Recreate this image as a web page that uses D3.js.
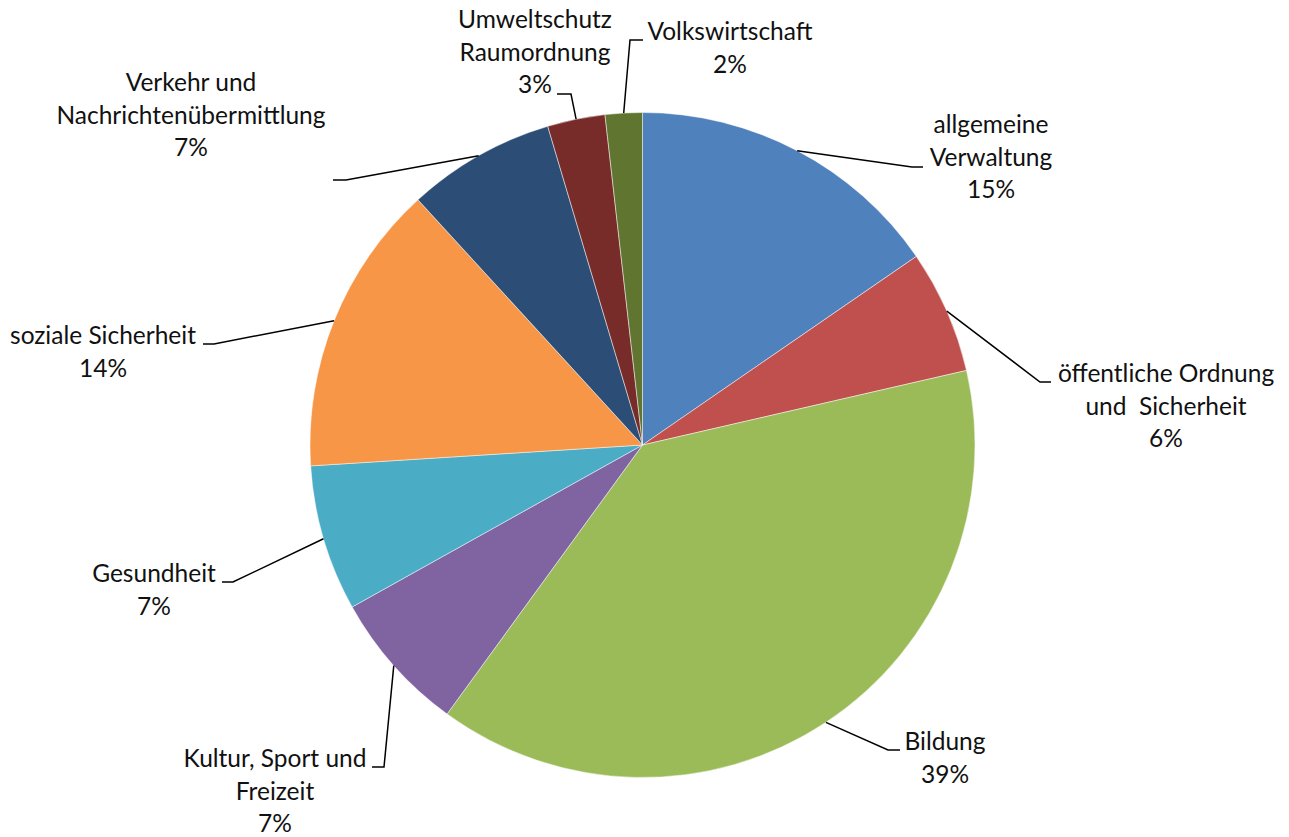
<!DOCTYPE html>
<html>
<head>
<meta charset="utf-8">
<script src="https://cdn.jsdelivr.net/npm/d3@7"></script>
<style>
  html, body { margin: 0; padding: 0; background: #fff; }
  svg text { font-family: Lato, "Noto Sans", sans-serif; font-size: 24.5px; fill: #111; }
</style>
</head>
<body>
<div id="chart"></div>
<script>
// Ausgaben nach Aufgabenbereichen (Anteile in %)
const categories = [
  "allgemeine\nVerwaltung",
  "öffentliche Ordnung\nund  Sicherheit",
  "Bildung",
  "Kultur, Sport und\nFreizeit",
  "Gesundheit",
  "soziale Sicherheit",
  "Verkehr und\nNachrichtenübermittlung",
  "Umweltschutz\nRaumordnung",
  "Volkswirtschaft"
];
const values = [15.4, 6.0, 38.6, 6.9, 7.1, 14.2, 7.2, 2.8, 1.8];
const colors = ["#4F81BD", "#C0504D", "#9BBB59", "#8064A2", "#4BACC6",
                "#F79646", "#2C4D75", "#772C2A", "#5F7530"];

// label placement (centre x, first baseline, leader elbow, leader end)
const labelLayout = [
  { x: 991,  y: 133, elbow: [912, 167], end: [923, 167] },
  { x: 1166, y: 382, elbow: [1040, 382], end: [1051, 382] },
  { x: 945,  y: 750, elbow: [888, 750], end: [900, 750] },
  { x: 275,  y: 767, elbow: [384, 767], end: [372, 767] },
  { x: 154,  y: 582, elbow: [233, 582], end: [222, 582] },
  { x: 103,  y: 344, elbow: [214, 344], end: [203, 344] },
  { x: 191,  y: 91,  elbow: [346, 180], end: [333, 180] },
  { x: 535,  y: 28,  elbow: [571, 94],  end: [557, 94] },
  { x: 730,  y: 40,  elbow: [630, 40],  end: [643, 40] }
];

const W = 1289, H = 837;
const cx = 642.5, cy = 445, r = 332.5;
const lineH = 32.6;

const svg = d3.select('#chart').append('svg')
  .attr('width', W).attr('height', H);

const g = svg.append('g').attr('transform', `translate(${cx},${cy})`);

const pie = d3.pie().sort(null).value(d => d.value);
const data = pie(categories.map((c, i) => ({ name: c, value: values[i], color: colors[i], i })));

const arc = d3.arc().innerRadius(0).outerRadius(r);

g.selectAll('path.slice')
  .data(data)
  .join('path')
  .attr('class', 'slice')
  .attr('d', arc)
  .attr('fill', d => d.data.color)
  .attr('stroke', '#fff')
  .attr('stroke-opacity', 0.6)
  .attr('stroke-width', 0.8);

// leader lines: from outer arc midpoint to elbow to end
const line = d3.line();
svg.selectAll('path.leader')
  .data(data)
  .join('path')
  .attr('class', 'leader')
  .attr('fill', 'none')
  .attr('stroke', '#000')
  .attr('stroke-width', 1.5)
  .attr('d', d => {
    const a = (d.startAngle + d.endAngle) / 2;
    const L = labelLayout[d.data.i];
    const p0 = [cx + r * Math.sin(a), cy - r * Math.cos(a)];
    return line([p0, L.elbow, L.end]);
  });

// labels
const labels = svg.selectAll('text.lbl')
  .data(data)
  .join('text')
  .attr('class', 'lbl')
  .attr('text-anchor', 'middle')
  .attr('x', d => labelLayout[d.data.i].x)
  .attr('y', d => labelLayout[d.data.i].y);

labels.each(function(d) {
  const L = labelLayout[d.data.i];
  const lines = d.data.name.split('\n').concat([Math.round(d.data.value) + '%']);
  const t = d3.select(this);
  lines.forEach((s, k) => {
    t.append('tspan')
      .attr('x', L.x)
      .attr('y', L.y + k * lineH)
      .style('white-space', 'pre')
      .text(s);
  });
});
</script>
</body>
</html>
